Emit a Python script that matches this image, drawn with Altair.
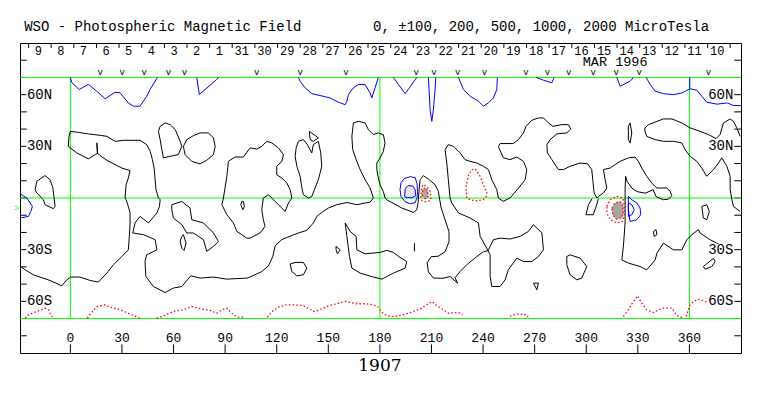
import altair as alt
import pandas as pd

# ---------------- contour data (lon, lat) ----------------
black_far_left = [(-20.5,4.8),(-19.5,9.7),(-14.7,13.0),(-11.8,10.6),(-10.2,6.0),(-9.5,0.2),(-8.9,-4.9),(-9.9,-6.2),(-14.7,-3.9),(-15.7,-1.0),(-19.5,2.9),(-20.5,4.8)]
black_main = [(-29.3,-39.4),(-26.3,-41.7),(-21.5,-44.6),(-11.8,-47.9),(-5.0,-51.0),(-2.1,-47.5),(0.2,-45.9),(5.6,-45.9),(11.5,-47.9),(16.3,-48.8),(21.2,-43.6),(25.0,-38.8),(29.9,-34.0),(33.7,-30.1),(34.3,-22.3),(34.7,-14.5),(34.7,-8.7),(33.7,-4.9),(32.4,-1.0),(31.8,0.0),(32.4,7.7),(33.7,11.6),(34.7,15.9),(29.9,17.4),(26.0,19.4),(21.2,21.9),(17.3,24.6),(15.7,26.2),(15.4,32.0),(15.8,26.0),(14.4,25.2),(10.5,22.7),(3.7,26.2),(-1.2,30.0),(-0.8,35.8),(0.0,38.7),(4.7,38.1),(10.5,37.2),(17.3,36.4),(21.2,35.8),(26.0,32.9),(30.8,33.5),(35.7,33.5),(40.5,33.5),(44.4,31.0),(46.4,27.1),(47.7,22.3),(48.7,17.4),(49.3,10.6),(49.8,4.8),(51.2,0.0),(52.2,-1.0),(51.8,-4.9),(50.3,-8.7),(45.4,-14.5),(40.5,-10.7),(37.6,-14.5),(36.3,-20.3),(42.5,-21.3),(49.3,-24.2),(50.3,-30.1),(44.4,-33.0),(43.4,-36.9),(43.9,-45.6),(48.3,-51.4),(55.1,-54.9),(59.9,-52.3),(64.8,-51.4),(70.0,-45.2),(75.4,-46.5),(83.2,-45.9),(91.0,-47.1),(102.6,-46.5),(104.5,-45.9),(111.3,-42.7),(115.2,-39.4),(117.7,-34.0),(119.1,-27.7),(122.9,-24.2),(125.9,-22.9),(132.6,-20.3),(137.5,-18.8),(141.3,-14.5),(143.3,-10.7),(146.2,-8.4),(150.1,-5.8),(154.9,-3.9),(160.8,-2.6),(166.6,-3.9),(171.4,-2.9),(174.3,-2.4),(176.2,0.0),(174.3,5.8),(171.4,10.6),(168.5,16.5),(166.2,22.3),(164.2,28.1),(163.7,35.8),(164.6,43.6),(167.5,44.5),(171.4,43.6),(173.3,39.7),(176.2,36.8),(179.1,37.8),(182.0,36.8),(183.0,32.0),(182.0,27.1),(180.1,23.3),(178.2,20.3),(178.2,16.5),(179.1,11.6),(180.1,7.7),(182.0,3.8),(183.0,0.0),(184.4,-1.3),(186.9,-2.6),(192.7,-5.8),(199.5,-8.4),(201.5,-6.8),(202.3,-2.0),(202.8,4.8),(203.4,10.6),(205.3,13.0),(208.2,11.0),(212.1,7.7),(214.0,3.8),(214.6,0.0),(215.6,-5.6),(217.9,-12.6),(220.2,-19.6),(220.2,-25.4),(217.9,-31.2),(213.9,-33.8),(209.8,-34.1),(207.5,-37.6),(208.2,-42.9),(211.1,-46.5),(216.8,-46.6),(220.8,-45.6)]
black_spike = [(220.8,-45.6),(225.2,-49.5),(223.7,-46.3),(226.6,-42.7),(230.5,-38.8),(235.4,-34.7),(240.2,-31.2),(242.9,-30.6)]
black_loop_c = [(242.9,-30.6),(246.0,-24.2),(249.9,-23.3),(255.7,-23.8),(261.5,-22.3),(266.4,-19.4),(269.3,-15.5),(274.2,-20.3),(275.1,-30.1),(272.2,-34.0),(268.3,-36.9),(263.5,-36.9),(259.6,-34.9),(254.7,-41.7),(252.8,-47.5),(249.9,-51.4),(245.1,-51.4),(244.1,-45.6),(244.1,-33.0),(242.9,-30.6)]
black_d = [(242.9,-30.6),(238.3,-22.3),(237.3,-14.5),(232.4,-11.6),(225.7,-8.7),(221.8,-2.9),(220.8,0.0),(219.8,10.6),(218.9,20.3),(217.9,28.1),(219.8,31.0),(222.8,30.0),(226.6,26.2),(229.5,22.3),(232.4,21.3),(236.4,20.3),(240.2,18.4),(243.1,16.5),(245.1,10.6),(248.0,4.8),(248.9,0.0),(251.7,-1.9),(255.7,0.0),(260.6,5.8),(264.5,10.6),(265.4,16.5),(263.5,21.3),(259.6,23.8),(255.7,22.3),(251.8,23.3),(248.9,29.8),(249.9,31.6),(257.6,31.6),(260.6,33.9),(263.5,37.8),(265.0,41.6),(268.3,45.1),(272.2,46.5),(275.1,46.5),(278.0,43.6),(280.6,41.6),(285.8,42.6),(289.6,42.6),(291.0,40.1),(288.7,37.8),(282.9,37.2),(279.0,33.9),(277.1,31.0),(277.4,26.2),(280.0,22.3),(283.8,16.5),(286.7,16.5),(290.6,18.4),(296.4,20.3),(300.7,19.9),(303.2,16.5),(303.8,10.6),(304.6,2.9),(306.2,0.0)]
black_e = [(306.2,0.0),(307.1,0.9),(310.0,2.9),(312.0,5.8),(311.0,10.6),(310.0,16.5),(313.9,17.4),(316.8,19.4),(319.7,21.3),(324.5,23.3),(328.4,23.8),(330.3,21.3),(332.3,17.4),(335.2,12.6),(338.1,8.7),(341.0,5.8),(346.9,5.8),(348.8,3.8),(349.8,1.3),(347.6,-0.7),(344.9,-1.0),(340.6,0.8),(338.9,4.8),(334.3,2.8),(329.6,3.7),(326.5,5.8),(323.8,9.5),(322.9,12.6),(322.6,4.8),(322.6,0.0),(322.6,-14.5),(321.6,-28.1),(320.7,-35.9),(324.5,-37.8),(331.3,-39.8),(335.2,-41.7),(340.1,-35.9),(341.1,-32.0),(344.9,-26.2),(350.7,-30.1),(355.6,-30.1),(358.5,-24.2),(361.4,-21.3),(365.2,-18.4),(366.2,-20.3),(372.0,-24.2),(375.9,-26.2),(380.8,-29.5)]
black_v = [(303.4,-0.4),(301.3,-3.9),(299.8,-9.7),(304.1,-9.7),(306.1,-3.9),(307.1,-0.4)]
black_right = [(389.5,35.8),(387.6,40.7),(385.6,44.5),(383.7,45.9),(379.8,43.6),(377.8,36.8),(375.5,34.5),(371.1,36.8),(366.2,38.7),(360.4,40.7),(355.6,43.6),(349.8,45.9),(344.9,45.9),(341.1,44.5),(336.2,42.6),(334.2,40.7),(334.0,39.5),(334.2,38.7),(335.2,35.8),(340.1,33.9),(344.9,32.9),(350.7,32.9),(355.6,32.0),(357.5,28.1),(360.4,24.2),(364.3,21.3),(367.2,17.4),(370.1,12.6),(374.0,16.5),(376.9,20.3),(378.8,23.3),(381.8,18.4),(383.7,12.6),(383.7,4.8),(384.7,-1.0),(385.6,-4.9),(389.5,-7.8)]
black_oval_a = [(52.2,41.6),(55.1,43.6),(58.0,42.6),(61.0,39.7),(63.8,33.0),(64.8,30.0),(62.8,25.2),(58.0,24.2),(54.1,23.3),(53.2,28.1),(52.2,33.9),(51.2,38.7),(52.2,41.6)]
black_oval_b = [(67.7,33.9),(71.5,36.2),(75.4,37.8),(80.3,37.8),(83.2,34.9),(84.2,30.0),(83.2,25.2),(79.3,21.9),(75.4,19.8),(70.6,21.3),(66.7,25.2),(65.7,30.0),(67.7,33.9)]
black_loop_n5 = [(89.0,0.0),(91.0,12.6),(91.9,21.3),(95.8,23.8),(100.6,23.8),(104.5,29.1),(108.4,28.4),(111.3,30.0),(114.2,32.9),(117.1,32.0),(121.0,29.1),(123.9,25.2),(123.0,21.3),(120.0,18.4),(120.0,13.5),(123.0,11.6),(125.9,8.7),(127.8,4.8),(128.8,0.0),(126.8,-2.9),(124.9,-7.8),(120.0,-2.9),(115.2,1.9),(112.2,0.0),(111.3,-6.8),(112.2,-12.6),(113.2,-16.5),(110.3,-20.3),(104.5,-23.3),(102.6,-23.3),(96.8,-19.4),(94.8,-14.5),(91.0,-9.7),(88.1,-3.9),(89.0,0.0)]
black_loop_n7 = [(134.6,6.0),(133.6,12.6),(131.7,18.4),(130.7,24.2),(131.3,29.1),(132.6,32.9),(135.5,33.9),(137.8,31.0),(140.4,26.2),(141.3,31.0),(144.2,32.9),(145.6,26.2),(146.2,18.4),(144.2,10.6),(142.3,5.8),(140.4,0.9),(138.4,0.0),(135.5,1.9),(134.6,6.0)]
black_tri_n7 = [(139.0,38.7),(144.2,34.9),(141.3,32.9),(139.4,33.9),(139.0,38.7)]
black_hook = [(159.8,-14.5),(160.8,-22.3),(162.3,-33.9),(163.7,-40.7),(168.5,-43.6),(176.2,-45.9),(181.1,-47.1),(187.9,-43.6),(194.7,-40.7),(195.6,-36.9),(190.8,-33.9),(187.9,-31.6),(184.0,-30.4),(180.1,-31.6),(171.4,-32.4),(166.6,-30.1),(166.2,-22.3),(162.7,-19.4),(159.8,-14.5)]
black_tri_s = [(154.5,-28.1),(156.9,-30.1),(155.3,-32.4),(154.5,-30.1),(154.5,-28.1)]
black_loop_g = [(127.8,-38.3),(130.7,-37.4),(135.5,-37.4),(137.5,-40.7),(135.5,-44.6),(131.7,-45.2),(128.8,-42.7),(127.8,-38.3)]
black_tick_h = [(200.1,-26.2),(200.1,-31.0)]
black_loop_n6 = [(59.0,-3.9),(64.8,-2.0),(69.6,-5.8),(70.6,-12.6),(77.4,-14.5),(83.2,-20.3),(86.1,-25.2),(83.2,-28.1),(79.3,-31.0),(77.4,-24.2),(71.5,-20.3),(67.7,-20.3),(64.8,-15.5),(59.9,-11.6),(59.0,-6.8),(59.0,-3.9)]
black_small_s = [(64.8,-22.3),(65.7,-21.3),(67.3,-26.2),(66.1,-30.5),(64.8,-29.1),(63.8,-25.2),(64.8,-22.3)]
black_tiny_a = [(99.7,-2.0),(99.1,-3.9),(100.3,-6.8),(101.2,-4.9),(100.6,-2.0),(99.7,-2.0)]
black_o1 = [(367.2,-4.9),(370.1,-3.9),(371.6,-7.8),(370.1,-12.6),(368.1,-11.6),(367.2,-4.9)]
black_o2 = [(368.1,-39.8),(374.0,-35.0),(375.0,-36.9),(373.0,-39.8),(369.1,-41.3),(368.1,-39.8)]
black_o3 = [(288.7,-34.0),(290.6,-33.0),(296.4,-34.9),(300.3,-39.8),(297.4,-46.5),(294.5,-47.5),(290.6,-44.6),(288.7,-38.8),(288.7,-34.0)]
black_o4 = [(269.3,-49.4),(272.2,-49.4),(271.3,-53.3),(269.3,-49.4)]
black_o5 = [(339.1,-19.4),(340.6,-18.4),(341.1,-21.3),(339.5,-22.3),(339.1,-19.4)]
black_thin = [(324.5,41.6),(325.5,43.6),(326.5,37.8),(325.5,32.0),(324.5,33.9),(324.5,41.6)]

blue_1 = [(0.0,70.0),(0.8,67.0),(5.2,63.0),(10.4,66.0),(15.3,62.0),(20.2,57.6),(26.0,61.4),(28.9,61.1),(33.7,55.2),(36.6,53.3),(40.5,53.3),(44.4,59.1),(46.3,63.0),(50.6,70.0)]
blue_2 = [(73.5,70.0),(75.0,60.1),(85.1,68.8),(86.1,70.0)]
blue_3 = [(132.6,70.0),(133.6,67.8),(136.5,64.0),(140.4,60.6),(145.2,59.5),(151.0,58.1),(155.9,55.6),(159.8,54.2),(160.8,56.2),(161.7,60.1),(164.6,64.0),(167.5,65.9),(171.4,65.9),(174.3,61.0),(175.3,58.1),(177.2,64.0),(179.1,70.0)]
blue_4 = [(187.9,70.0),(190.8,65.9),(194.7,60.6),(197.2,64.0),(199.5,67.3),(201.5,70.0)]
blue_5 = [(208.2,70.0),(208.6,63.0),(209.2,51.3),(210.2,44.5),(211.1,51.3),(212.1,63.0),(212.5,70.0)]
blue_6 = [(225.7,70.0),(228.6,63.0),(232.5,59.1),(237.3,56.2),(240.2,53.3),(243.1,55.2),(246.0,58.1),(248.0,63.0),(248.3,70.0)]
blue_7 = [(270.9,70.0),(275.1,68.4),(280.0,66.9),(281.3,70.0)]
blue_8 = [(317.8,70.0),(319.7,64.9),(325.5,67.8),(327.5,70.0)]
blue_9 = [(334.8,70.0),(337.2,65.9),(340.1,62.0),(344.9,60.6),(350.7,60.0),(355.6,61.0),(360.4,63.4),(364.3,62.6),(367.2,59.1),(370.1,55.6),(376.0,54.5),(382.1,55.2),(385.6,53.7),(390.0,53.7)]
blue_10 = [(360.2,70.0),(360.2,63.4)]
blue_left = [(-29.3,2.5),(-25.4,0.0),(-23.4,-2.9),(-22.1,-4.9),(-23.0,-7.8),(-24.4,-10.7),(-29.3,-11.6)]
blue_a_out = [(191.7,4.8),(192.3,8.9),(194.1,11.2),(197.6,12.4),(200.5,11.8),(201.6,8.3),(201.9,3.7),(201.6,0.2),(200.5,-2.7),(197.6,-3.3),(194.7,-2.2),(192.3,0.8),(191.7,4.8)]
blue_a_in = [(194.4,0.8),(194.7,5.4),(196.4,7.2),(199.3,6.9),(200.5,4.8),(200.8,1.3),(198.7,0.2),(195.8,0.2),(194.4,0.8)]
blue_b_out = [(324.5,0.9),(326.5,-1.0),(329.4,-2.9),(331.3,-5.8),(331.7,-9.7),(329.4,-12.6),(325.5,-13.6),(324.5,-6.8),(324.5,0.9)]
blue_b_in = [(324.5,-2.9),(326.5,-3.9),(327.9,-6.8),(326.5,-9.7),(324.5,-10.7),(324.5,-2.9)]

red_1 = [(-26.3,-69.8),(-24.4,-67.8),(-19.5,-65.9),(-14.7,-64.0),(-12.8,-64.9),(-11.8,-66.9),(-10.2,-69.8)]
red_2 = [(9.9,-69.8),(11.9,-66.9),(15.4,-63.0),(20.2,-62.0),(23.1,-63.4),(28.9,-64.9),(35.7,-67.8),(40.5,-69.8)]
red_3 = [(50.2,-69.8),(54.1,-68.5),(59.9,-65.9),(65.7,-64.9),(70.6,-63.0),(76.4,-64.5),(81.2,-65.3),(85.1,-66.9),(88.1,-64.9),(91.0,-64.0),(94.8,-67.8),(97.7,-69.2),(100.6,-69.2)]
red_4 = [(114.6,-69.2),(117.1,-65.9),(120.9,-63.4),(125.8,-62.0),(129.7,-62.0),(135.5,-62.6),(139.4,-64.5),(141.3,-65.9),(144.2,-65.3),(147.1,-63.9),(150.0,-62.6),(154.9,-61.4),(159.8,-60.1),(162.7,-60.6),(166.6,-61.4),(171.4,-61.4),(176.2,-62.0),(179.1,-63.4),(180.5,-65.9),(184.0,-68.4),(187.9,-68.8),(190.8,-68.4),(193.7,-67.8),(197.6,-66.5),(203.4,-64.5),(207.3,-62.0),(210.2,-60.1),(213.1,-62.6),(216.9,-64.9),(219.8,-66.9),(222.7,-66.5),(225.6,-66.5),(228.2,-67.8)]
red_5 = [(255.7,-68.8),(257.7,-67.8),(260.6,-67.3),(265.4,-67.8),(266.4,-69.8)]
red_6 = [(321.6,-68.8),(324.5,-64.9),(327.4,-60.1),(329.8,-56.8),(332.3,-61.1),(335.2,-64.9),(339.1,-66.5),(342.0,-64.9),(344.9,-63.9),(349.8,-63.9),(351.7,-66.9),(353.6,-68.8),(356.5,-69.8)]
red_7 = [(358.1,-68.8),(359.4,-64.9),(360.4,-62.0),(362.3,-60.1),(366.2,-58.7),(368.5,-60.1),(372.0,-60.5)]
red_eq = [(230.5,0.0),(230.1,6.7),(231.5,13.0),(233.4,16.5),(235.4,16.9),(238.3,12.6),(240.2,7.7),(242.2,2.9),(241.8,0.8),(240.0,-1.0),(236.0,-1.6),(232.5,-1.0),(230.7,0.0)]
red_a_out = [(203.8,0.2),(204.1,4.8),(205.0,7.7),(207.3,6.7),(209.2,3.8),(209.6,0.0),(209.2,-1.6),(206.3,-2.2),(204.4,-1.3),(203.8,0.2)]
red_a_in = [(204.6,1.3),(204.9,4.8),(206.3,6.0),(207.7,4.2),(208.0,0.8),(206.3,-0.4),(204.6,1.3)]
red_b_out = [(312.0,-4.9),(313.9,-1.0),(317.8,0.9),(321.2,0.0),(321.9,-2.9),(322.2,-8.7),(321.2,-13.6),(317.8,-14.5),(313.9,-12.6),(312.0,-8.7),(312.0,-4.9)]
red_b_in = [(314.9,-5.8),(316.8,-2.9),(319.7,-2.0),(321.2,-3.9),(321.5,-8.7),(320.5,-11.6),(317.4,-12.2),(315.5,-9.7),(314.9,-5.8)]

black_segments = [black_far_left, black_main, black_spike, black_loop_c, black_d, black_e, black_v,
                  black_right, black_oval_a, black_oval_b, black_loop_n5, black_loop_n7, black_tri_n7,
                  black_hook, black_tri_s, black_loop_g, black_tick_h, black_loop_n6, black_small_s,
                  black_tiny_a, black_o1, black_o2, black_o3, black_o4, black_o5, black_thin]
blue_segments = [blue_1, blue_2, blue_3, blue_4, blue_5, blue_6, blue_7, blue_8, blue_9, blue_10,
                 blue_left, blue_a_out, blue_a_in, blue_b_out, blue_b_in]
red_segments = [red_1, red_2, red_3, red_4, red_5, red_6, red_7, red_eq, red_a_out, red_a_in, red_b_out, red_b_in]
light_fill_segments = [blue_a_in]
dark_fill_segments = [red_a_in, red_b_in]

# ---------------- annotation data ----------------
day_labels = ["9","8","7","6","5","4","3","2","1","31","30","29","28","27","26","25","24","23",
              "22","21","20","19","18","17","16","15","14","13","12","11","10"]
day_lon = [-18.7,-5.6,7.6,20.8,33.9,47.1,60.3,73.4,86.6,99.7,112.9,126.1,139.2,152.4,165.6,178.7,
           191.9,205.0,218.2,231.4,244.5,257.7,270.9,284.0,297.2,310.4,323.5,336.7,349.8,363.0,376.2]
day_sep_lon = [-24.3,-11.2,2.0,15.2,28.3,41.5,54.7,67.8,81.0,94.1,107.3,120.5,133.6,146.8,160.0,173.1,
               186.3,199.4,212.6,225.8,238.9,252.1,265.3,278.4,291.6,304.8,317.9,331.1,344.2,357.4,370.6,383.7]
obs_lon = [17.3,30.1,42.9,57.0,66.3,108.4,133.6,160.2,201.1,211.5,225.3,240.8,264.9,277.4,289.8,304.1,317.4,330.8,371.1]
lon_ticks = [0,30,60,90,120,150,180,210,240,270,300,330,360]
lat_side_ticks = [-80,-70,-60,-50,-40,-30,-20,-10,0,10,20,30,40,50,60,70,80]
lat_label_vals = [60,30,-30,-60]
lat_label_text = ["60N","30N","30S","60S"]

LON_MIN, LON_MAX = -29.3, 390.0
xs = alt.Scale(domain=[LON_MIN, LON_MAX], nice=False, zero=False)
ys = alt.Scale(domain=[-90, 90], nice=False, zero=False)
X = alt.X("lon:Q", scale=xs, axis=None)
Y = alt.Y("lat:Q", scale=ys, axis=None)


def seg_df(segs, tag):
    rows = []
    for k, pts in enumerate(segs):
        for i, (lo, la) in enumerate(pts):
            rows.append({"seg": f"{tag}{k}", "ord": i, "lon": lo, "lat": la})
    return pd.DataFrame(rows)


def lines(segs, tag, **kw):
    return alt.Chart(seg_df(segs, tag)).mark_line(**kw).encode(
        x=X, y=Y, detail="seg:N", order=alt.Order("ord:Q"))


def rules(df, color, width=1):
    return alt.Chart(df).mark_rule(color=color, strokeWidth=width).encode(
        x=X, x2="lon2:Q", y=Y, y2="lat2:Q")


def texts(df, size, align="center", font="Liberation Mono", color="black", baseline="middle"):
    return alt.Chart(df).mark_text(size=size, align=align, font=font, color=color,
                                   baseline=baseline).encode(x=X, y=Y, text="t:N")

# ticks
tick_rows = []
for la in lat_side_ticks:
    tick_rows.append({"lon": LON_MIN, "lon2": LON_MIN + 3.9, "lat": la, "lat2": la})
    tick_rows.append({"lon": LON_MAX, "lon2": LON_MAX - 3.9, "lat": la, "lat2": la})
for lo in lon_ticks:
    tick_rows.append({"lon": lo, "lon2": lo, "lat": -90, "lat2": -85})
for lo in day_sep_lon:
    tick_rows.append({"lon": lo, "lon2": lo, "lat": 90, "lat2": 87.1})
ticks = rules(pd.DataFrame(tick_rows), "black")

green = rules(pd.DataFrame([
    {"lon": LON_MIN, "lon2": LON_MAX, "lat": 70, "lat2": 70},
    {"lon": LON_MIN, "lon2": LON_MAX, "lat": 0, "lat2": 0},
    {"lon": LON_MIN, "lon2": LON_MAX, "lat": -70, "lat2": -70},
    {"lon": 0, "lon2": 0, "lat": -70, "lat2": 70},
    {"lon": 180, "lon2": 180, "lat": -70, "lat2": 70},
    {"lon": 360, "lon2": 360, "lat": -70, "lat2": 70},
]), "#00ff00")

fill_light = lines(light_fill_segments, "fl", fill="#e4e4e4", stroke="#e4e4e4", strokeWidth=0.5)
fill_dark = lines(dark_fill_segments, "fd", fill="#a6a6a6", stroke="#a6a6a6", strokeWidth=0.5)
black_lines = lines(black_segments, "k", color="black", strokeWidth=1)
blue_lines = lines(blue_segments, "b", color="#0000ff", strokeWidth=1)
red_lines = lines(red_segments, "r", color="#ff0000", strokeWidth=1.3, strokeDash=[1.5, 2.2])

bg_rows = []
for la in lat_label_vals:
    bg_rows.append({"lon": -25.6, "lon2": -10.6, "lat": la - 3.2, "lat2": la + 3.2})
    bg_rows.append({"lon": 370.3, "lon2": 385.8, "lat": la - 3.2, "lat2": la + 3.2})
label_bg = alt.Chart(pd.DataFrame(bg_rows)).mark_rect(color="white").encode(
    x=X, x2="lon2:Q", y=Y, y2="lat2:Q")

left_labels = texts(pd.DataFrame({"lon": [-25.3] * 4, "lat": lat_label_vals, "t": lat_label_text}), 14, align="left")
right_labels = texts(pd.DataFrame({"lon": [385.6] * 4, "lat": lat_label_vals, "t": lat_label_text}), 14, align="right")
day_text = texts(pd.DataFrame({"lon": day_lon, "lat": [85.2] * len(day_lon), "t": day_labels}), 12)
obs_text = texts(pd.DataFrame({"lon": obs_lon, "lat": [73.2] * len(obs_lon), "t": ["v"] * len(obs_lon)}), 9)
month_text = texts(pd.DataFrame({"lon": [316.8], "lat": [79.0], "t": ["MAR 1996"]}), 13.5)
lon_text = texts(pd.DataFrame({"lon": lon_ticks, "lat": [-81.0] * len(lon_ticks), "t": [str(v) for v in lon_ticks]}), 13)
rot_text = texts(pd.DataFrame({"lon": [180.0], "lat": [-97.4], "t": ["1907"]}), 17, font="DejaVu Serif")
title_l = texts(pd.DataFrame({"lon": [-26.9], "lat": [99.4], "t": ["WSO - Photospheric Magnetic Field"]}), 14, align="left")
title_r = texts(pd.DataFrame({"lon": [176.0], "lat": [99.4], "t": ["0, \u00b1100, 200, 500, 1000, 2000 MicroTesla"]}), 14, align="left")
edge_mark = texts(pd.DataFrame({"lon": [-31.2], "lat": [-5.6], "t": [">"]}), 9, color="#00ff00")

chart = alt.layer(
    ticks, green, fill_light, fill_dark, black_lines, blue_lines, red_lines,
    label_bg, left_labels, right_labels, day_text, obs_text, month_text,
    lon_text, rot_text, title_l, title_r, edge_mark,
).properties(
    width=721, height=310, autosize="none",
    padding={"left": 12, "top": 35, "right": 14, "bottom": 40},
).configure_view(stroke="black", strokeWidth=1)

chart.save("out.html", embed_options={"renderer": "svg", "actions": False})
